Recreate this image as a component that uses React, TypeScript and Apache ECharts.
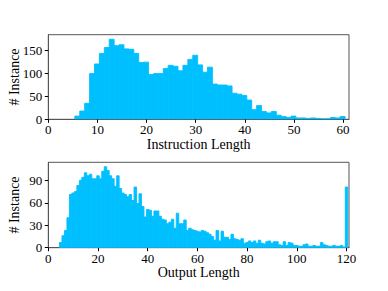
import React, { useEffect, useRef } from "react";
import * as echarts from "echarts";

// Instruction length histogram: bins of width 1 starting at 5.4
const instrBinStart = 5.4;
const instrBinWidth = 1;
const instrCounts = [
  7, 18, 35, 100, 121, 144, 157, 175, 161, 163,
  154, 153, 144, 124, 125, 98, 100, 100, 111, 118,
  116, 106, 118, 131, 140, 119, 103, 114, 77, 75,
  75, 73, 57, 55, 52, 42, 21, 30, 17, 14,
  17, 9, 6, 4, 7, 3, 3, 2, 3, 2,
  1, 1, 4, 3, 6,
];

// Output length histogram: bins of width 1 starting at 4.5 (lengths 5..120)
const outBinStart = 4.5;
const outBinWidth = 1;
const outCounts = [
  7, 16, 23, 40, 71, 73, 75, 83, 90, 94, // 5-14
  100, 96, 98, 92, 92, 96, 92, 102, 108, 103, // 15-24
  96, 92, 82, 96, 79, 73, 71, 68, 71, 63, // 25-34
  81, 59, 72, 55, 41, 51, 50, 42, 49, 49, // 35-44
  42, 38, 37, 32, 34, 38, 26, 46, 32, 32, // 45-54
  37, 23, 26, 24, 23, 22, 21, 23, 22, 20, // 55-64
  18, 15, 10, 23, 9, 22, 14, 14, 11, 18, // 65-74
  12, 11, 10, 12, 6, 7, 9, 7, 9, 6, // 75-84
  10, 6, 5, 8, 9, 6, 8, 8, 4, 3, // 85-94
  8, 3, 7, 6, 3, 3, 2, 2, 4, 5, // 95-104
  2, 2, 3, 2, 2, 7, 4, 3, 2, 2, // 105-114
  3, 2, 2, 3, 1, 81, // 115-120
];

const instrXTicks = [0, 10, 20, 30, 40, 50, 60];
const instrYTicks = [0, 50, 100, 150];
const outXTicks = [0, 20, 40, 60, 80, 100, 120];
const outYTicks = [0, 30, 60, 90];

const FONT = "'Liberation Serif', 'DejaVu Serif', serif";
const BAR = "#00BFFF";
const FRAME = "#555";

function toBins(start: number, width: number, counts: number[]) {
  return counts.map((c, i) => [start + i * width, start + (i + 1) * width, c]);
}

function renderHist(params: any, api: any) {
  const p0 = api.coord([api.value(0), api.value(2)]);
  const p1 = api.coord([api.value(1), 0]);
  return {
    type: "rect",
    shape: { x: p0[0], y: p0[1], width: p1[0] - p0[0], height: p1[1] - p0[1] },
    style: { fill: BAR, stroke: BAR, lineWidth: 0.9 },
  };
}

function labelCfg(ticks: number[], margin: number) {
  return {
    show: true,
    fontFamily: FONT,
    fontSize: 13,
    color: "#000",
    margin,
    showMaxLabel: false,
    formatter: (v: number) => (ticks.indexOf(v) >= 0 ? String(v) : ""),
  };
}

function xAxisCfg(gridIndex: number, max: number, interval: number, ticks: number[], name: string) {
  return {
    type: "value",
    gridIndex,
    min: 0,
    max,
    interval,
    name,
    nameLocation: "middle",
    nameGap: 18,
    nameMoveOverlap: false,
    nameTextStyle: { fontFamily: FONT, fontSize: 14, color: "#000" },
    axisLine: { show: true, lineStyle: { color: FRAME, width: 1 } },
    axisTick: { show: true, length: 3.5, inside: false, customValues: ticks, lineStyle: { color: "#000", width: 1 } },
    axisLabel: labelCfg(ticks, 4),
    splitLine: { show: false },
  };
}

function yAxisCfg(gridIndex: number, max: number, interval: number, ticks: number[]) {
  return {
    type: "value",
    gridIndex,
    min: 0,
    max,
    interval,
    name: "# Instance",
    nameLocation: "middle",
    nameGap: 27,
    nameMoveOverlap: false,
    nameRotate: 90,
    nameTextStyle: { fontFamily: FONT, fontSize: 14, color: "#000" },
    axisLine: { show: true, lineStyle: { color: FRAME, width: 1 } },
    axisTick: { show: true, length: 3.5, inside: false, customValues: ticks, lineStyle: { color: "#000", width: 1 } },
    axisLabel: labelCfg(ticks, 6),
    splitLine: { show: false },
  };
}

export default function App() {
  const ref = useRef<HTMLDivElement>(null);
  useEffect(() => {
    if (!ref.current) return;
    const chart = echarts.init(ref.current, undefined, { renderer: "svg" });
    chart.setOption({
      animation: false,
      backgroundColor: "#fff",
      textStyle: { fontFamily: FONT, fontSize: 13, color: "#000" },
      grid: [
        { left: 48.3, top: 34.7, width: 300.7, height: 84.6, show: true, borderColor: FRAME, borderWidth: 1, backgroundColor: "transparent", containLabel: false, outerBoundsMode: "none" },
        { left: 48.3, top: 162.3, width: 300.7, height: 85.4, show: true, borderColor: FRAME, borderWidth: 1, backgroundColor: "transparent", containLabel: false, outerBoundsMode: "none" },
      ],
      xAxis: [
        xAxisCfg(0, 61.2, 10, instrXTicks, "Instruction Length"),
        xAxisCfg(1, 121, 20, outXTicks, "Output Length"),
      ],
      yAxis: [yAxisCfg(0, 185, 50, instrYTicks), yAxisCfg(1, 114, 30, outYTicks)],
      series: [
        {
          type: "custom",
          xAxisIndex: 0,
          yAxisIndex: 0,
          renderItem: renderHist,
          encode: { x: [0, 1], y: 2 },
          data: toBins(instrBinStart, instrBinWidth, instrCounts),
          clip: true,
          silent: true,
        },
        {
          type: "custom",
          xAxisIndex: 1,
          yAxisIndex: 1,
          renderItem: renderHist,
          encode: { x: [0, 1], y: 2 },
          data: toBins(outBinStart, outBinWidth, outCounts),
          clip: true,
          silent: true,
        },
      ],
    });
    return () => chart.dispose();
  }, []);
  return (
    <div
      ref={ref}
      style={{ position: "fixed", left: 0, top: 0, width: 388, height: 291, background: "#fff" }}
    />
  );
}
